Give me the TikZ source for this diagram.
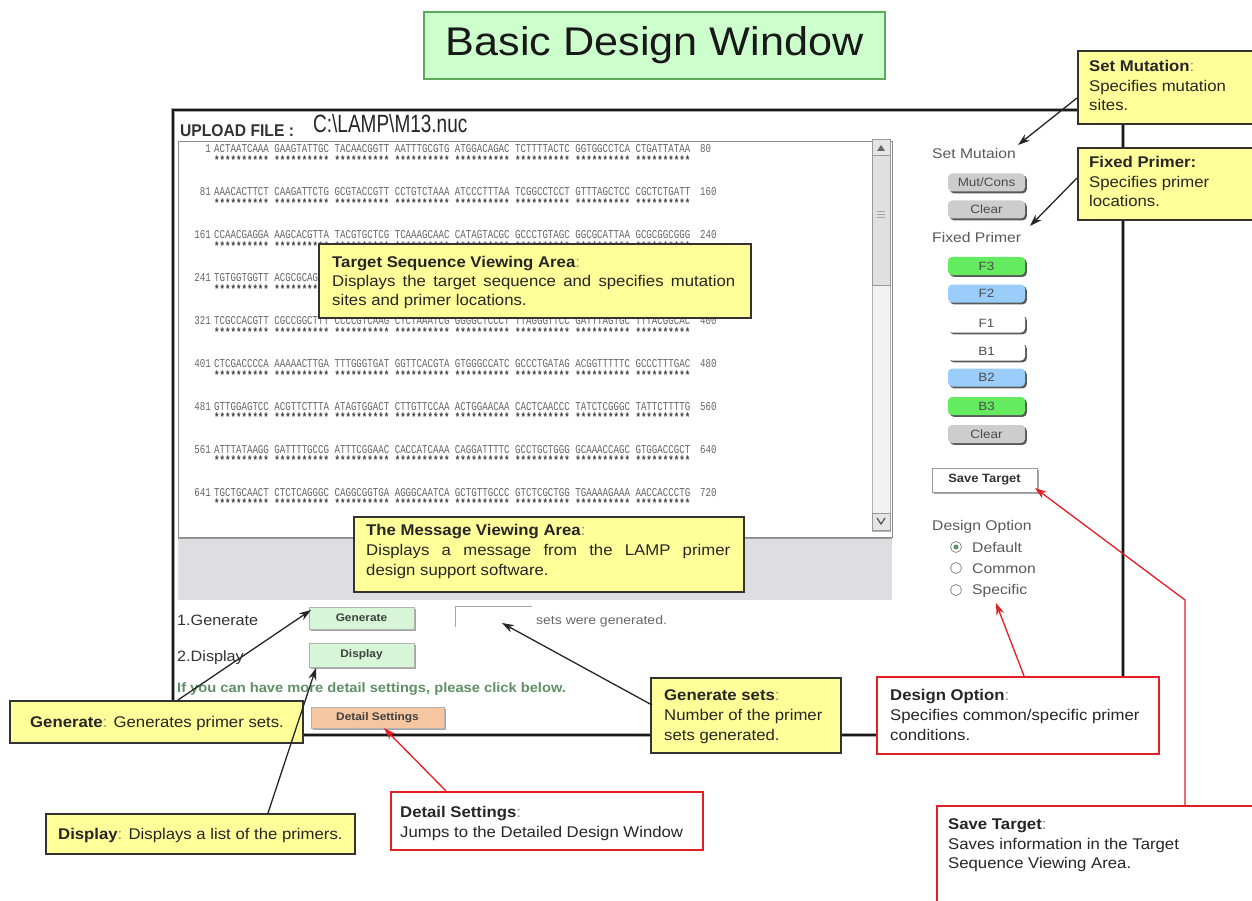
\documentclass[tikz,border=0pt]{standalone}
\usepackage{fontspec}
\setmainfont[FakeStretch=1.08]{Liberation Sans}
\newfontfamily\seqf[FakeStretch=0.76]{Liberation Mono}
\newfontfamily\uplf[FakeStretch=0.92]{Liberation Sans}
\newfontfamily\pathf[FakeStretch=0.76]{Liberation Sans}
\newfontfamily\uif[FakeStretch=1.12]{Liberation Sans}
\usetikzlibrary{arrows.meta,shadows}
\definecolor{cally}{RGB}{255,255,153}
\definecolor{callred}{RGB}{230,30,35}
\definecolor{titlegreen}{RGB}{204,255,204}
\definecolor{titleborder}{RGB}{90,170,90}
\definecolor{btngreen}{RGB}{100,235,95}
\definecolor{btnblue}{RGB}{155,205,250}
\definecolor{btngray}{RGB}{205,205,205}
\definecolor{lbtngreen}{RGB}{215,245,215}
\definecolor{lbtnorange}{RGB}{245,198,160}
\definecolor{msggray}{RGB}{222,222,226}
\definecolor{hintgreen}{RGB}{95,145,100}
\newcommand\callsize{\fontsize{15.5}{18}\selectfont}
\newcommand\btnsize{\uif\fontsize{12}{12}\selectfont}
\tikzset{
  ycall/.style={draw=black!80, line width=1.6pt, fill=cally, inner sep=0pt, anchor=north west},
  rcall/.style={draw=callred, line width=2.2pt, fill=white, inner sep=0pt, anchor=north west},
  ctext/.style={font=\callsize, anchor=base west, inner sep=0pt, text=black!85},
  blkarrow/.style={draw=black!85, line width=1.3pt, -{Stealth[length=12pt,width=8pt]}},
  redarrow/.style={draw=callred, line width=1.3pt, -{Stealth[length=12pt,width=8pt]}},
  rbtn/.style={rounded corners=4pt, minimum width=77pt, minimum height=18pt, inner sep=0pt,
     font=\btnsize, text=black!70,
     general shadow={shadow xshift=1.8pt, shadow yshift=-1.8pt, fill=black!65}},
  lbtn/.style={draw=black!30, line width=0.8pt, minimum width=105pt, minimum height=23pt, inner sep=0pt,
     font=\fontsize{11}{11}\selectfont\bfseries, text=black!75,
     general shadow={shadow xshift=1.5pt, shadow yshift=-1.5pt, fill=black!35}},
  uitext/.style={anchor=base west, inner sep=0pt, text=black!65, font=\uif\fontsize{14}{14}\selectfont},
  seqtext/.style={anchor=base west, inner sep=0pt, text=black!60, font=\seqf\fontsize{12}{12}\selectfont},
  startext/.style={anchor=base west, inner sep=0pt, text=black!75, font=\seqf\bfseries\fontsize{12}{12}\selectfont},
  radio/.style={circle, draw=black!45, line width=0.8pt, minimum size=11pt, inner sep=0pt}
}
\begin{document}
\begin{tikzpicture}[x=1pt,y=-1pt]
\useasboundingbox (0,0) rectangle (1252,901);
\fill[white] (0,0) rectangle (1252,901);

% title
\node[draw=titleborder, line width=1.3pt, fill=titlegreen, minimum width=461pt, minimum height=67pt, inner sep=0pt,
      font=\fontsize{40}{40}\selectfont, text=black!90] (title) at (654.5,45.5) {Basic Design Window};

% main window frame
\draw[black!35, line width=4.2pt] (173,110) rectangle (1123,735);
\draw[black!90, line width=2.4pt] (173,110) rectangle (1123,735);

% upload line
\node[anchor=base west, inner sep=0pt, text=black!80, font=\uplf\bfseries\fontsize{17}{17}\selectfont] (upl) at (180,137) {UPLOAD FILE :};
\node[anchor=base west, inner sep=0pt, text=black!85, font=\pathf\fontsize{25}{25}\selectfont] (path) at (313,133) {C:\textbackslash LAMP\textbackslash M13.nuc};

% sequence area
\draw[black!45, line width=0.8pt, fill=white] (178,141) rectangle (892,537);
\node[draw=black!30, fill=black!5, minimum width=18pt, minimum height=391pt, inner sep=0pt, anchor=north west] (scroll) at (872,140) {};
\node[draw=black!40, fill=black!12, minimum width=18pt, minimum height=146pt, inner sep=0pt, anchor=north west] (thumb) at (872,139) {};
\node[draw=black!40, fill=black!10, minimum width=18pt, minimum height=16pt, inner sep=0pt, anchor=north west] (upbtn) at (872,139) {};
\fill[black!60] (877,151) -- (881,145) -- (885,151) -- cycle;
\draw[black!35, line width=0.7pt] (877,211) -- (885,211) (877,214) -- (885,214) (877,217) -- (885,217);
\node[draw=black!40, fill=black!10, minimum width=18pt, minimum height=17pt, inner sep=0pt, anchor=north west] (dnbtn) at (872,513) {};
\draw[black!70, line width=1.2pt] (877,518) -- (881,524) -- (885,518);

\def\stars{********** ********** ********** ********** ********** ********** ********** **********}
\foreach \n/\s/\st/\e [count=\i from 0] in {
 1/ACTAATCAAA GAAGTATTGC TACAACGGTT AATTTGCGTG ATGGACAGAC TCTTTTACTC GGTGGCCTCA CTGATTATAA/\stars/80,
 81/AAACACTTCT CAAGATTCTG GCGTACCGTT CCTGTCTAAA ATCCCTTTAA TCGGCCTCCT GTTTAGCTCC CGCTCTGATT/\stars/160,
 161/CCAACGAGGA AAGCACGTTA TACGTGCTCG TCAAAGCAAC CATAGTACGC GCCCTGTAGC GGCGCATTAA GCGCGGCGGG/\stars/240,
 241/TGTGGTGGTT ACGCGCAG/********** ********/{},
 321/TCGCCACGTT CGCCGGCTTT CCCCGTCAAG CTCTAAATCG GGGGCTCCCT TTAGGGTTCC GATTTAGTGC TTTACGGCAC/\stars/400,
 401/CTCGACCCCA AAAAACTTGA TTTGGGTGAT GGTTCACGTA GTGGGCCATC GCCCTGATAG ACGGTTTTTC GCCCTTTGAC/\stars/480,
 481/GTTGGAGTCC ACGTTCTTTA ATAGTGGACT CTTGTTCCAA ACTGGAACAA CACTCAACCC TATCTCGGGC TATTCTTTTG/\stars/560,
 561/ATTTATAAGG GATTTTGCCG ATTTCGGAAC CACCATCAAA CAGGATTTTC GCCTGCTGGG GCAAACCAGC GTGGACCGCT/\stars/640,
 641/TGCTGCAACT CTCTCAGGGC CAGGCGGTGA AGGGCAATCA GCTGTTGCCC GTCTCGCTGG TGAAAAGAAA AACCACCCTG/\stars/720}{
  \pgfmathsetmacro\yy{149+42.9*\i}
  \node[seqtext, anchor=base east] (num\i) at (211,\yy+4) {\n};
  \node[seqtext] (seq\i) at (214,\yy+4) {\s};
  \node[startext] (star\i) at (214,\yy+15.5) {\st};
  \node[seqtext] (end\i) at (700,\yy+4) {\e};
}

% message area
\fill[msggray] (178,538) rectangle (892,600);
\draw[black!40, line width=1pt] (178,538) -- (892,538);

% generate / display
\node[anchor=base west, inner sep=0pt, text=black!80, font=\fontsize{15}{15}\selectfont] (gen1) at (177,625) {1.Generate};
\node[anchor=base west, inner sep=0pt, text=black!80, font=\fontsize{15}{15}\selectfont] (disp2) at (177,661) {2.Display};
\node[lbtn, fill=lbtngreen, minimum height=22pt] (genbtn) at (361.5,618) {Generate};
\node[lbtn, fill=lbtngreen, minimum height=24pt] (dispbtn) at (361.5,655) {Display};
\node[minimum width=76pt, minimum height=20pt, inner sep=0pt] (setsbox) at (494,617) {};
\draw[black!35, line width=1.3pt] (setsbox.north east) -- (setsbox.north west) -- (setsbox.south west);
\node[anchor=base west, inner sep=0pt, text=black!60, font=\uif\fontsize{12.5}{12.5}\selectfont] (setsgen) at (536,624) {sets were generated.};
\node[anchor=base west, inner sep=0pt, text=hintgreen, font=\bfseries\fontsize{13.6}{13.6}\selectfont] (hint) at (177,692) {If you can have more detail settings, please click below.};
\node[lbtn, fill=lbtnorange, minimum width=133pt, minimum height=21pt] (detbtn) at (377.5,717.5) {Detail Settings};

% right panel
\node[uitext] (setmutlbl) at (932,159) {Set Mutaion};
\node[rbtn, fill=btngray] (mutbtn) at (986.5,182.5) {Mut/Cons};
\node[rbtn, fill=btngray] (clr1) at (986.5,209.5) {Clear};
\node[uitext] (fixlbl) at (932,243) {Fixed Primer};
\node[rbtn, fill=btngreen] (f3) at (986.5,266) {F3};
\node[rbtn, fill=btnblue] (f2) at (986.5,293.5) {F2};
\node[rbtn, fill=white] (f1) at (986.5,323.5) {F1};
\node[rbtn, fill=white] (b1) at (986.5,351.5) {B1};
\node[rbtn, fill=btnblue] (b2) at (986.5,377.5) {B2};
\node[rbtn, fill=btngreen] (b3) at (986.5,406) {B3};
\node[rbtn, fill=btngray] (clr2) at (986.5,434) {Clear};
\node[draw=black!40, line width=0.8pt, fill=white, minimum width=105pt, minimum height=24pt, inner sep=0pt,
      font=\fontsize{12}{12}\selectfont\bfseries, text=black!80,
      general shadow={shadow xshift=1.8pt, shadow yshift=-1.8pt, fill=black!35}] (savebtn) at (984.5,480) {Save Target};
\node[uitext] (deslbl) at (932,530) {Design Option};
\node[radio] (rdef) at (956,547) {};
\fill[hintgreen] (rdef.center) circle (2.5);
\node[radio] (rcom) at (956,568) {};
\node[radio] (rspe) at (956,590) {};
\node[uitext] (tdef) at (972,552) {Default};
\node[uitext] (tcom) at (972,573) {Common};
\node[uitext] (tspe) at (972,594) {Specific};

% callouts (yellow)
\node[ycall, minimum width=179pt, minimum height=73pt] (setmut) at (1077,50) {};
\node[ctext] (setmut1) at (1089,72) {\textbf{Set Mutation}\textcolor{black!45}{:}};
\node[ctext] (setmut2) at (1089,92) {Specifies mutation};
\node[ctext] (setmut3) at (1089,111) {sites.};

\node[ycall, minimum width=179pt, minimum height=72pt] (fixp) at (1077,147) {};
\node[ctext] (fixp1) at (1089,168) {\textbf{Fixed Primer:}};
\node[ctext] (fixp2) at (1089,188) {Specifies primer};
\node[ctext] (fixp3) at (1089,207) {locations.};

\node[ycall, minimum width=432pt, minimum height=74pt] (target) at (318,243) {};
\node[ctext] (target1) at (332,267) {\textbf{Target Sequence Viewing Area}\textcolor{black!45}{:}};
\node[ctext] (target2) at (332,287) {\makebox[403pt][s]{Displays the target sequence and specifies mutation}};
\node[ctext] (target3) at (332,305) {sites and primer locations.};

\node[ycall, minimum width=390pt, minimum height=75pt] (msg) at (353,516) {};
\node[ctext] (msg1) at (366,535) {\textbf{The Message Viewing Area}\textcolor{black!45}{:}};
\node[ctext] (msg2) at (366,555) {\makebox[364pt][s]{Displays a message from the LAMP primer}};
\node[ctext] (msg3) at (366,575) {design support software.};

\node[ycall, minimum width=293pt, minimum height=42pt] (gencall) at (9,700) {};
\node[ctext] (gencall1) at (30,727) {\textbf{Generate}\textcolor{black!45}{:} Generates primer sets.};

\node[ycall, minimum width=309pt, minimum height=40pt] (dispcall) at (45,813) {};
\node[ctext] (dispcall1) at (58,839) {\textbf{Display}\textcolor{black!45}{:} Displays a list of the primers.};

\node[ycall, minimum width=190pt, minimum height=75pt] (gensets) at (650,677) {};
\node[ctext] (gensets1) at (664,700) {\textbf{Generate sets}\textcolor{black!45}{:}};
\node[ctext] (gensets2) at (664,720) {Number of the primer};
\node[ctext] (gensets3) at (664,740) {sets generated.};

% callouts (red)
\node[rcall, minimum width=312pt, minimum height=58pt] (detcall) at (390,791) {};
\node[ctext] (detcall1) at (400,817) {\textbf{Detail Settings}\textcolor{black!45}{:}};
\node[ctext] (detcall2) at (400,837) {Jumps to the Detailed Design Window};

\node[rcall, minimum width=282pt, minimum height=77pt] (desopt) at (876,676) {};
\node[ctext] (desopt1) at (890,700) {\textbf{Design Option}\textcolor{black!45}{:}};
\node[ctext] (desopt2) at (890,720) {Specifies common/specific primer};
\node[ctext] (desopt3) at (890,740) {conditions.};

\node[rcall, minimum width=320pt, minimum height=100pt] (savecall) at (936,805) {};
\node[ctext] (savecall1) at (948,829) {\textbf{Save Target}\textcolor{black!45}{:}};
\node[ctext] (savecall2) at (948,849) {Saves information in the Target};
\node[ctext] (savecall3) at (948,868) {Sequence Viewing Area.};

% connector end points
\coordinate (smA) at (1077,98);   \coordinate (smB) at (1018,145);
\coordinate (fpA) at (1077,178);  \coordinate (fpB) at (1030,226);
\coordinate (gnA) at (178,700);   \coordinate (gnB) at (311,610);
\coordinate (dpA) at (268,813);   \coordinate (dpB) at (316,668);
\coordinate (gsA) at (652,705);   \coordinate (gsB) at (502,623);
\coordinate (dtA) at (446,791);   \coordinate (dtB) at (384,728);
\coordinate (doA) at (1024,676);  \coordinate (doB) at (996,603);
\coordinate (stA) at (1185,805);  \coordinate (stK1) at (1185,600); \coordinate (stB) at (1035,488);

\draw[blkarrow] (smA) -- (smB);
\draw[blkarrow] (fpA) -- (fpB);
\draw[blkarrow] (gnA) -- (gnB);
\draw[blkarrow] (dpA) -- (dpB);
\draw[blkarrow] (gsA) -- (gsB);
\draw[redarrow] (dtA) -- (dtB);
\draw[redarrow] (doA) -- (doB);
\draw[redarrow] (stA) -- (stK1) -- (stB);
\end{tikzpicture}
\end{document}
